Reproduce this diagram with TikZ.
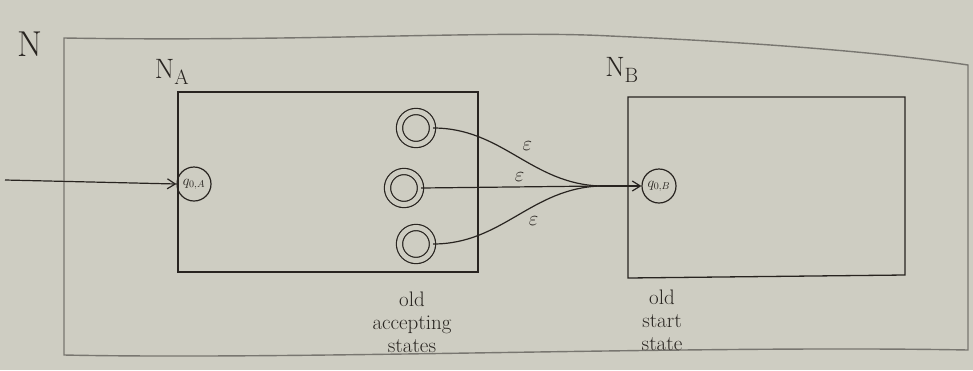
\documentclass[tikz,border=0pt]{standalone}
\usetikzlibrary{arrows.meta}
\definecolor{paper}{RGB}{206,205,194}
\definecolor{ink}{RGB}{40,36,32}
\definecolor{pencil}{RGB}{120,118,112}
\begin{document}
\begin{tikzpicture}[x=1pt,y=-1pt,
  line width=1.3pt, draw=ink, text=ink,
  every node/.style={font=\fontsize{22}{24}\selectfont, text=ink},
  state/.style={circle, draw=ink, line width=1.2pt, minimum size=34pt, inner sep=0pt, font=\fontsize{14}{15}\selectfont},
  accept/.style={circle, draw=ink, line width=1.2pt, minimum size=33pt, inner sep=0pt, double=paper, double distance=5pt},
  trans/.style={draw=ink, line width=1.2pt},
  arr/.style={trans, -{Straight Barb[length=8pt,width=10pt]}},
  caption/.style={align=center, font=\fontsize{21}{23}\selectfont}]
  % paper
  \fill[paper] (0,0) rectangle (973,370);
  \useasboundingbox (0,0) rectangle (973,370);

  % outer machine N
  \draw[pencil, line width=1.4pt] (64,38) .. controls (300,42) and (500,30) .. (610,36)
        .. controls (750,42) and (880,52) .. (968,65) -- (968,350)
        .. controls (700,345) and (300,360) .. (64,355) -- cycle;
  \node[font=\fontsize{36}{38}\selectfont] (lblN) at (30,44) {N};

  % sub-machine N_A
  \draw (178,92) -- (478,92) -- (478,272) -- (178,272) -- cycle;
  \node[font=\fontsize{28}{30}\selectfont] (lblA) at (172,72) {N$_{\mathrm{A}}$};

  % sub-machine N_B
  \draw (628,97) -- (905,97) -- (905,275) -- (628,278) -- cycle;
  \node[font=\fontsize{28}{30}\selectfont] (lblB) at (622,70) {N$_{\mathrm{B}}$};

  % states
  \node[state] (qA) at (194,184) {$q_{0,A}$};
  \node[state] (qB) at (659,186) {$q_{0,B}$};
  \node[accept] (f1) at (416,128) {};
  \node[accept] (f2) at (404,188) {};
  \node[accept] (f3) at (416,244) {};

  % incoming start arrow
  \coordinate (start) at (5,180);
  \draw[arr] (start) -- (qA.west);

  % epsilon transitions merging into the old start state
  \coordinate (m) at (600,186);
  \draw[trans] (f1.east) to[out=0,in=178] node[pos=0.5, above right=2pt] {$\varepsilon$} (m);
  \draw[trans] (f2.east) -- node[pos=0.55, above=1pt] {$\varepsilon$} (m);
  \draw[trans] (f3.east) to[out=0,in=182] node[pos=0.55, below right=1pt] {$\varepsilon$} (m);
  \draw[arr] (m) -- (qB.west);

  % captions
  \node[caption] (capA) at (412,322) {old\\accepting\\states};
  \node[caption] (capB) at (662,320) {old\\start\\state};
\end{tikzpicture}
\end{document}
